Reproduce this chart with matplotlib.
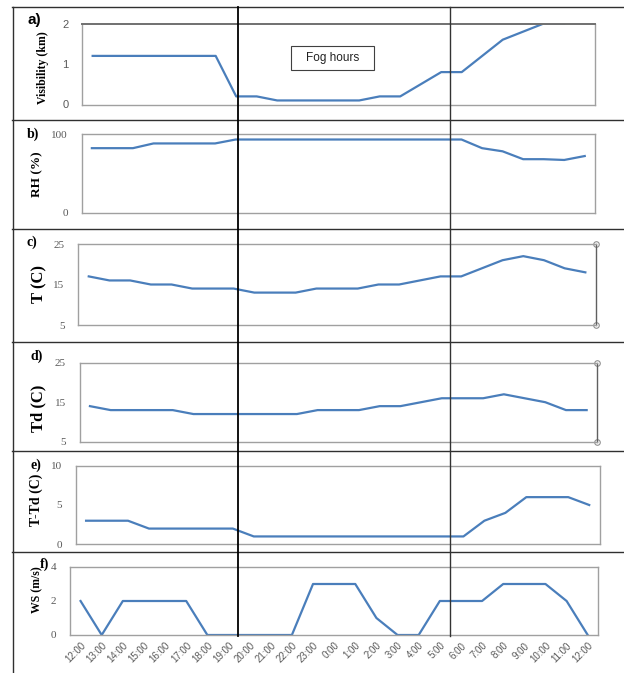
import numpy as np
import matplotlib
matplotlib.use('Agg')
import matplotlib.pyplot as plt
from matplotlib.lines import Line2D
from matplotlib.patches import Rectangle

W, H = 624, 673

hours = ['12:00', '13:00', '14:00', '15:00', '16:00', '17:00', '18:00', '19:00',
         '20:00', '21:00', '22:00', '23:00', '0:00', '1:00', '2:00', '3:00',
         '4:00', '5:00', '6:00', '7:00', '8:00', '9:00', '10:00', '11:00', '12:00']
visibility = [1.2, 1.2, 1.2, 1.2, 1.2, 1.2, 1.2, 0.2, 0.2, 0.1, 0.1, 0.1, 0.1,
              0.1, 0.2, 0.2, 0.5, 0.8, 0.8, 1.2, 1.6, 1.8, 2.0, 2.0, np.nan]
rh = [82, 82, 82, 88, 88, 88, 88, 93, 93, 93, 93, 93, 93,
      93, 93, 93, 93, 93, 93, 82, 78, 68, 68, 67, 72]
temp = [17, 16, 16, 15, 15, 14, 14, 14, 13, 13, 13, 14, 14,
        14, 15, 15, 16, 17, 17, 19, 21, 22, 21, 19, 18]
dew = [14, 13, 13, 13, 13, 12, 12, 12, 12, 12, 12, 13, 13,
       13, 14, 14, 15, 16, 16, 16, 17, 16, 15, 13, 13]
spread = [3, 3, 3, 2, 2, 2, 2, 2, 1, 1, 1, 1, 1,
          1, 1, 1, 1, 1, 1, 3, 4, 6, 6, 6, 5]
wind = [2, 0, 2, 2, 2, 2, 0, 0, 0, 0, 0, 3, 3,
        3, 1, 0, 0, 2, 2, 2, 3, 3, 3, 2, 0]


def px(l, t, r, b):
    return [l / W, 1 - b / H, (r - l) / W, (b - t) / H]


fig = plt.figure(figsize=(W / 100, H / 100), dpi=100)

blue = '#4a7ebb'
frame = '#a0a0a0'
tick_col = '#595959'

# (data, rect, ylim, yticks, letter, letter xy, letter font, ylabel, label xy, label size, handles)
panels = [
    (visibility, (82.4, 23.5, 595, 104.5), (0, 2), [0, 1, 2], 'a)', (34, 20), 'Liberation Sans', 11,
     'Visibility (km)', (43, 68), 8.5, False),
    (rh, (81.6, 134, 595, 212.7), (0, 100), [0, 100], 'b)', (33, 134), 'Liberation Serif', 10,
     'RH (%)', (37, 174), 9.5, False),
    (temp, (78.4, 244, 595.7, 325), (5, 25), [5, 15, 25], 'c)', (32, 242), 'Liberation Serif', 10,
     'T (C)', (39, 284), 12, True),
    (dew, (79.6, 362.7, 597, 441.7), (5, 25), [5, 15, 25], 'd)', (37, 356), 'Liberation Serif', 10,
     'Td (C)', (38, 408), 12, True),
    (spread, (75.6, 465.7, 599.7, 544.3), (0, 10), [0, 5, 10], 'e)', (36, 465), 'Liberation Serif', 10,
     'T-Td (C)', (36, 500), 10, False),
    (wind, (70, 567, 598.3, 635), (0, 4), [0, 2, 4], 'f)', (45, 564), 'Liberation Serif', 10,
     'WS (m/s)', (37, 590), 8.5, False),
]

x = np.arange(len(hours))
for i, (vals, rect, ylim, yt, letter, lxy, lfont, lsize, ylab, yxy, ysize, handles) in enumerate(panels):
    ax = fig.add_axes(px(*rect))
    ax.plot(x, vals, color=blue, lw=1.6)
    ax.set_xlim(-0.5, len(hours) - 0.5)
    ax.set_ylim(*ylim)
    ax.set_yticks(yt)
    tfont = 'Liberation Sans' if i == 0 else 'Liberation Serif'
    ax.set_yticklabels([str(v) for v in yt], fontsize=8, color=tick_col, family=tfont)
    ax.tick_params(axis='y', length=0, pad=10)
    if i < 5:
        ax.set_xticks([])
    else:
        ax.set_xticks(x)
        ax.set_xticklabels(hours, rotation=45, ha='right', va='top', rotation_mode='anchor',
                           fontsize=7, color=tick_col, family='Liberation Sans')
        ax.tick_params(axis='x', length=0, pad=4)
    for s in ax.spines.values():
        s.set_color(frame)
        s.set_linewidth(1)
    if i == 0:
        ax.spines['top'].set_color('#707070')
        ax.spines['top'].set_linewidth(1.4)
    if handles:
        ax.spines['right'].set_color('#606060')
        ax.plot([1, 1], [0, 1], 'o', ms=4, mfc='white', mec='#909090', mew=0.8,
                transform=ax.transAxes, clip_on=False)
    fig.text(lxy[0] / W, 1 - lxy[1] / H, letter, family=lfont, fontweight='bold',
             fontsize=lsize, ha='center', va='center')
    fig.text(yxy[0] / W, 1 - yxy[1] / H, ylab, family='Liberation Serif', fontweight='bold',
             fontsize=ysize, rotation=90, ha='center', va='center')

# fog hours box
fig.patches.append(Rectangle((291 / W, 1 - 70 / H), 83 / W, 24 / H, transform=fig.transFigure,
                             facecolor='white', edgecolor='#404040', lw=0.8))
fig.text(332.5 / W, 1 - 58 / H, 'Fog hours', family='Liberation Sans', fontsize=8.5,
         ha='center', va='center', color='#222222')

# table lines
for yy in [7, 120, 228.5, 342, 451, 552]:
    fig.lines.append(Line2D([12 / W, 1], [1 - yy / H, 1 - yy / H], transform=fig.transFigure,
                            color='#303030', lw=1))
fig.lines.append(Line2D([13 / W, 13 / W], [1 - 7 / H, 0], transform=fig.transFigure,
                        color='#303030', lw=1))

# fog period markers
fig.lines.append(Line2D([238 / W, 238 / W], [1 - 7 / H, 1 - 636 / H], transform=fig.transFigure,
                        color='black', lw=1.3))
fig.lines.append(Line2D([450 / W, 450 / W], [1 - 7 / H, 1 - 636 / H], transform=fig.transFigure,
                        color='#333333', lw=1))

fig.savefig('out.png', dpi=100)
